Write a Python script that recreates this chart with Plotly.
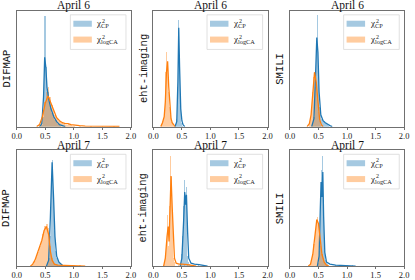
import plotly.graph_objects as go

# ---------------- data (density, arbitrary units) ----------------
PIPELINES = ["DIFMAP", "eht-imaging", "SMILI"]
DAYS = ["April 6", "April 7"]
X_TICKS = [0.0, 0.5, 1.0, 1.5, 2.0]
X_TICK_LABELS = ["0.0", "0.5", "1.0", "1.5", "2.0"]
LEGEND_LABELS = ["CP", "logCA"]

# DIFMAP, April 6
D6_CP_BW = 0.025
D6_CP_HX = [0.44, 0.465, 0.49, 0.515, 0.54, 0.565, 0.59, 0.615, 0.64, 0.665, 0.69, 0.715, 0.74, 0.765]
D6_CP_HY = [2, 10, 112, 60, 35, 28, 20, 14, 10, 7, 5, 3, 2, 1]
D6_CP_KX = [0.40, 0.44, 0.47, 0.49, 0.51, 0.53, 0.56, 0.60, 0.65, 0.70, 0.75, 0.80, 0.85]
D6_CP_KY = [0, 3, 30, 70, 60, 40, 28, 18, 10, 5, 2, 1, 0]
D6_CA_BW = 0.03
D6_CA_HX = [0.40, 0.43, 0.46, 0.49, 0.52, 0.55, 0.58, 0.61, 0.64, 0.67, 0.70, 0.73, 0.76, 0.79, 0.82, 0.85, 0.88, 0.91, 0.94, 0.97, 1.00, 1.10, 1.30, 1.50, 1.70]
D6_CA_HY = [2, 6, 14, 25, 35, 40, 30, 22, 16, 12, 9, 6, 5, 4, 3, 2, 2, 3, 2, 1, 1, 0.5, 0.5, 0.5, 1]
D6_CA_KX = [0.35, 0.40, 0.45, 0.50, 0.55, 0.60, 0.65, 0.70, 0.75, 0.80, 0.85, 0.90, 0.95, 1.00, 1.10, 1.20, 1.40, 1.60, 1.70, 1.80]
D6_CA_KY = [0, 2, 10, 24, 31, 24, 15, 9, 6, 4, 3, 3, 2, 1.5, 1, 0.6, 0.5, 0.6, 0.8, 0.2]

# eht-imaging, April 6
E6_CP_BW = 0.015
E6_CP_HX = [0.40, 0.415, 0.43, 0.445, 0.46, 0.475, 0.49, 0.505, 0.52]
E6_CP_HY = [3, 8, 40, 108, 60, 20, 8, 4, 1]
E6_CP_KX = [0.38, 0.41, 0.43, 0.445, 0.46, 0.48, 0.50, 0.52, 0.55]
E6_CP_KY = [0, 5, 45, 100, 60, 18, 6, 2, 0]
E6_CA_BW = 0.015
E6_CA_HX = [0.15, 0.165, 0.18, 0.195, 0.21, 0.225, 0.24, 0.255, 0.27, 0.285, 0.30, 0.315, 0.33, 0.345, 0.36]
E6_CA_HY = [3, 5, 8, 12, 30, 55, 76, 60, 35, 20, 12, 8, 5, 3, 1]
E6_CA_KX = [0.13, 0.16, 0.19, 0.21, 0.23, 0.25, 0.27, 0.29, 0.31, 0.33, 0.36, 0.38]
E6_CA_KY = [0, 4, 10, 25, 55, 66, 40, 18, 8, 4, 1, 0]

# SMILI, April 6
S6_CP_BW = 0.02
S6_CP_HX = [0.40, 0.42, 0.44, 0.46, 0.48, 0.50, 0.52, 0.54, 0.56, 0.58, 0.60, 0.62, 0.64, 0.66, 0.68]
S6_CP_HY = [3, 10, 40, 85, 113, 50, 20, 12, 8, 6, 5, 4, 3, 2, 1]
S6_CP_KX = [0.38, 0.42, 0.45, 0.47, 0.49, 0.51, 0.54, 0.58, 0.62, 0.66, 0.70, 0.74]
S6_CP_KY = [0, 8, 55, 90, 75, 35, 12, 6, 4, 2, 1, 0]
S6_CA_BW = 0.02
S6_CA_HX = [0.34, 0.36, 0.38, 0.40, 0.42, 0.44, 0.46, 0.48, 0.50, 0.52, 0.54]
S6_CA_HY = [3, 8, 18, 35, 50, 56, 45, 30, 15, 6, 2]
S6_CA_KX = [0.30, 0.34, 0.37, 0.40, 0.43, 0.46, 0.49, 0.52, 0.55, 0.58]
S6_CA_KY = [0, 3, 12, 33, 55, 45, 22, 7, 2, 0]

# DIFMAP, April 7
D7_CP_BW = 0.02
D7_CP_HX = [0.54, 0.56, 0.58, 0.60, 0.62, 0.64, 0.66, 0.68, 0.70, 0.72, 0.74, 0.76, 0.78]
D7_CP_HY = [2, 8, 30, 80, 107, 70, 35, 15, 8, 5, 3, 2, 1]
D7_CP_KX = [0.52, 0.56, 0.59, 0.62, 0.645, 0.67, 0.70, 0.74, 0.78, 0.82]
D7_CP_KY = [0, 6, 50, 105, 70, 30, 10, 4, 2, 0]
D7_CA_BW = 0.03
D7_CA_HX = [0.28, 0.31, 0.34, 0.37, 0.40, 0.43, 0.46, 0.49, 0.52, 0.55, 0.58, 0.61, 0.64, 0.67, 0.70, 0.80, 0.90, 1.00, 1.10]
D7_CA_HY = [2, 5, 9, 14, 20, 25, 32, 40, 42, 38, 20, 8, 4, 2, 1, 0.5, 0.5, 0.5, 0.5]
D7_CA_KX = [0.24, 0.28, 0.32, 0.36, 0.40, 0.44, 0.48, 0.52, 0.56, 0.59, 0.62, 0.66, 0.72, 0.85, 1.00, 1.10, 1.20]
D7_CA_KY = [0, 2, 6, 12, 19, 26, 36, 40, 32, 15, 6, 2, 1, 0.6, 0.5, 0.3, 0]

# eht-imaging, April 7
E7_CP_BW = 0.015
E7_CP_HX = [0.49, 0.505, 0.52, 0.535, 0.55, 0.565, 0.58, 0.595, 0.61, 0.625, 0.64, 0.70, 0.80, 0.90]
E7_CP_HY = [5, 12, 30, 60, 87, 70, 80, 40, 10, 4, 2, 1, 1, 0.5]
E7_CP_KX = [0.47, 0.50, 0.53, 0.55, 0.565, 0.58, 0.60, 0.62, 0.66, 0.72, 0.80, 0.90, 0.95]
E7_CP_KY = [0, 8, 45, 75, 62, 72, 35, 8, 3, 2, 1.5, 0.5, 0]
E7_CA_BW = 0.015
E7_CA_HX = [0.20, 0.215, 0.23, 0.245, 0.26, 0.275, 0.29, 0.305, 0.32, 0.335, 0.35, 0.365, 0.38, 0.45, 0.50, 0.55, 0.60, 0.65]
E7_CA_HY = [3, 10, 25, 35, 51, 20, 60, 111, 90, 50, 20, 8, 4, 1, 2, 2, 1, 1]
E7_CA_KX = [0.18, 0.21, 0.24, 0.26, 0.275, 0.29, 0.31, 0.33, 0.35, 0.37, 0.40, 0.45, 0.50, 0.55, 0.60, 0.65, 0.70, 0.75]
E7_CA_KY = [0, 8, 30, 40, 25, 55, 91, 60, 22, 8, 3, 2, 2, 2, 1.5, 1, 0.5, 0]

# SMILI, April 7
S7_CP_BW = 0.015
S7_CP_HX = [0.50, 0.515, 0.53, 0.545, 0.56, 0.575, 0.59, 0.605, 0.62, 0.635, 0.65, 0.70, 0.80, 0.90, 1.00, 1.10]
S7_CP_HY = [3, 15, 70, 97, 60, 111, 55, 15, 6, 3, 2, 1, 1, 0.5, 0.5, 0.5]
S7_CP_KX = [0.48, 0.51, 0.53, 0.545, 0.56, 0.575, 0.59, 0.61, 0.64, 0.70, 0.80, 0.90, 1.00, 1.10, 1.15]
S7_CP_KY = [0, 10, 55, 85, 70, 95, 50, 14, 4, 2, 1, 0.8, 0.5, 0.5, 0]
S7_CA_BW = 0.02
S7_CA_HX = [0.36, 0.38, 0.40, 0.42, 0.44, 0.46, 0.48, 0.50, 0.52, 0.54, 0.56, 0.58, 0.60, 0.62, 0.64]
S7_CA_HY = [2, 5, 12, 22, 35, 45, 49, 42, 30, 20, 12, 8, 4, 2, 1]
S7_CA_KX = [0.32, 0.36, 0.40, 0.44, 0.47, 0.50, 0.53, 0.56, 0.60, 0.64, 0.68]
S7_CA_KY = [0, 2, 12, 33, 47, 43, 27, 12, 4, 1, 0]

Y_MAX = 117

PANELS = [
    # (row, col, cp_hist, cp_kde, ca_hist, ca_kde)
    (0, 0, (D6_CP_HX, D6_CP_HY, D6_CP_BW), (D6_CP_KX, D6_CP_KY), (D6_CA_HX, D6_CA_HY, D6_CA_BW), (D6_CA_KX, D6_CA_KY)),
    (0, 1, (E6_CP_HX, E6_CP_HY, E6_CP_BW), (E6_CP_KX, E6_CP_KY), (E6_CA_HX, E6_CA_HY, E6_CA_BW), (E6_CA_KX, E6_CA_KY)),
    (0, 2, (S6_CP_HX, S6_CP_HY, S6_CP_BW), (S6_CP_KX, S6_CP_KY), (S6_CA_HX, S6_CA_HY, S6_CA_BW), (S6_CA_KX, S6_CA_KY)),
    (1, 0, (D7_CP_HX, D7_CP_HY, D7_CP_BW), (D7_CP_KX, D7_CP_KY), (D7_CA_HX, D7_CA_HY, D7_CA_BW), (D7_CA_KX, D7_CA_KY)),
    (1, 1, (E7_CP_HX, E7_CP_HY, E7_CP_BW), (E7_CP_KX, E7_CP_KY), (E7_CA_HX, E7_CA_HY, E7_CA_BW), (E7_CA_KX, E7_CA_KY)),
    (1, 2, (S7_CP_HX, S7_CP_HY, S7_CP_BW), (S7_CP_KX, S7_CP_KY), (S7_CA_HX, S7_CA_HY, S7_CA_BW), (S7_CA_KX, S7_CA_KY)),
]

# ---------------- style ----------------
W, H = 415, 280
COL_PX = [(12, 129), (152, 269), (292, 409)]
ROW_PX = [(11, 128), (152, 269)]
BLUE = "#1f77b4"
ORANGE = "#ff7f0e"
BLUE_A = "rgba(31,119,180,0.4)"
ORANGE_A = "rgba(255,127,14,0.4)"
SERIF = "Liberation Serif, DejaVu Serif, serif"
MONO = "Liberation Mono, DejaVu Sans Mono, monospace"
FRAME = "#707070"

fig = go.Figure()
layout = dict(
    width=W, height=H, margin=dict(l=0, r=0, t=0, b=0),
    paper_bgcolor="white", plot_bgcolor="white",
    showlegend=False, barmode="overlay", bargap=0,
    font=dict(family=SERIF, color="#222"),
)
annotations = []
shapes = []

for i, (r, c, cph, cpk, cah, cak) in enumerate(PANELS):
    n = i + 1
    xa = "x" if n == 1 else f"x{n}"
    ya = "y" if n == 1 else f"y{n}"
    x0, x1 = COL_PX[c]
    y0, y1 = ROW_PX[r]
    dx = f"{xa} domain"
    dy = f"{ya} domain"
    layout[f"xaxis{'' if n == 1 else n}"] = dict(
        domain=[x0 / W, x1 / W], anchor=ya, range=[0, 2],
        tickvals=X_TICKS, ticktext=X_TICK_LABELS, ticks="outside", ticklen=2,
        tickwidth=1, tickcolor=FRAME, tickfont=dict(family=SERIF, size=8.5, color="#222"),
        ticklabelstandoff=-1,
        showline=True, linecolor=FRAME, linewidth=1, mirror=True,
        showgrid=False, zeroline=False, fixedrange=True,
    )
    layout[f"yaxis{'' if n == 1 else n}"] = dict(
        domain=[1 - y1 / H, 1 - y0 / H], anchor=xa, range=[0, Y_MAX],
        showticklabels=False, ticks="", showline=True, linecolor=FRAME,
        linewidth=1, mirror=True, showgrid=False, zeroline=False, fixedrange=True,
    )
    for (hx, hy, bw), (kx, ky), fill, line in [(cph, cpk, BLUE_A, BLUE), (cah, cak, ORANGE_A, ORANGE)]:
        fig.add_trace(go.Bar(x=hx, y=hy, width=bw, marker=dict(color=fill, line=dict(width=0)),
                             xaxis=xa, yaxis=ya, hoverinfo="skip"))
        fig.add_trace(go.Scatter(x=kx, y=ky, mode="lines", line=dict(color=line, width=1.3),
                                 xaxis=xa, yaxis=ya, hoverinfo="skip"))
    # title
    annotations.append(dict(text=DAYS[r], x=0.5, y=1, xref=dx, yref=dy, xanchor="center",
                            yanchor="bottom", yshift=-2.5, showarrow=False, borderpad=0,
                            font=dict(family=SERIF, size=11.5, color="#111")))
    # y label
    annotations.append(dict(text=PIPELINES[c], x=0, y=0.5, xref=dx, yref=dy, xanchor="right",
                            yanchor="middle", xshift=-3, textangle=-90, showarrow=False,
                            borderpad=0, font=dict(family=MONO, size=10.5, color="#111")))
    # legend box
    shapes.append(dict(type="rect", xref=dx, yref=dy, x0=0.47, x1=0.957, y0=0.667, y1=0.966,
                       line=dict(color="#d8d8d8", width=0.8), fillcolor="rgba(255,255,255,0.8)"))
    for k, (pc, py) in enumerate([(BLUE_A, 0.889), (ORANGE_A, 0.752)]):
        shapes.append(dict(type="rect", xref=dx, yref=dy, x0=0.496, x1=0.658,
                           y0=py - 0.026, y1=py + 0.026, line=dict(width=0), fillcolor=pc))
        annotations.append(dict(text="χ<sub>" + LEGEND_LABELS[k] + "</sub>", x=0.69, y=py,
                                xref=dx, yref=dy, xanchor="left", yanchor="middle",
                                showarrow=False, borderpad=0,
                                font=dict(family=SERIF, size=9, color="#222")))
        annotations.append(dict(text="2", x=0.69, y=py, xref=dx, yref=dy, xanchor="left",
                                yanchor="middle", xshift=6, yshift=3, showarrow=False,
                                borderpad=0, font=dict(family=SERIF, size=6, color="#222")))

layout["annotations"] = annotations
layout["shapes"] = shapes
fig.update_layout(**layout)
fig.write_html("out.html", config={"displayModeBar": False},
               post_script="document.body.style.margin='0px';document.body.style.overflow='hidden';")
